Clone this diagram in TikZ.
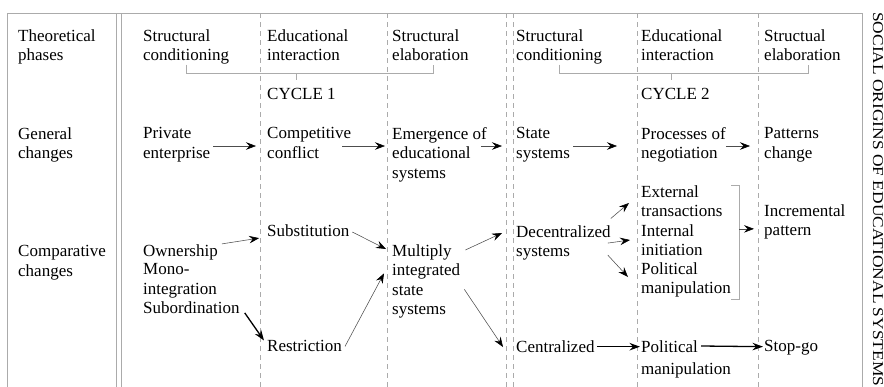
\documentclass[tikz,border=0pt]{standalone}
\usepackage{fontspec}
\setmainfont{Liberation Serif}
\usetikzlibrary{arrows.meta}
\definecolor{rulegray}{HTML}{ABABAB}
\definecolor{shaftgray}{HTML}{4D4D4D}

\begin{document}
\begin{tikzpicture}[x=1pt, y=-1pt,
  txt/.style={anchor=north west, inner sep=0pt, align=left, font=\fontsize{17}{19.3}\selectfont},
  rule/.style={draw=rulegray, line width=0.8pt},
  colsep/.style={draw=rulegray, line width=0.6pt, dash pattern=on 5pt off 4pt},
  arr/.style={draw=shaftgray, line width=0.55pt, -{Stealth[length=10pt, width=7.5pt, inset=3.5pt, color=black]}},
  heavyarr/.style={draw=black, line width=1.3pt, -{Stealth[length=10.5pt, width=7.5pt, inset=3.5pt]}}]
\useasboundingbox (0,0) rectangle (884,386);

\draw[rule] (7,390) -- (7,13) -- (862,13) -- (862,390);
\foreach \x in {116,121} \draw[rule] (\x,13) -- (\x,390);
\foreach \x in {260,387,506,513,637,758} \draw[colsep] (\x,13) -- (\x,390);

\node[txt] (ph0) at (18,29.5) {Theoretical\\phases};
\node[txt] (sc1) at (143,29.5) {Structural\\conditioning};
\node[txt] (ei1) at (267,29.5) {Educational\\interaction};
\node[txt] (se1) at (392,29.5) {Structural\\elaboration};
\node[txt] (sc2) at (516,29.5) {Structural\\conditioning};
\node[txt] (ei2) at (641,29.5) {Educational\\interaction};
\node[txt] (se2) at (764,29.5) {Structual\\elaboration};
\node[txt] (cyc1) at (267,88.5) {CYCLE 1};
\node[txt] (cyc2) at (641,88.5) {CYCLE 2};

\node[txt] (gen0) at (18,127.5) {General\\changes};
\node[txt] (priv) at (143,127.5) {Private\\enterprise};
\node[txt] (comp) at (267,127.5) {Competitive\\conflict};
\node[txt] (emer) at (392,127.5) {Emergence of\\educational\\systems};
\node[txt] (state) at (516,127.5) {State\\systems};
\node[txt] (proc) at (641,127.5) {Processes of\\negotiation};
\node[txt] (patt) at (764,127.5) {Patterns\\change};

\node[txt] (cmp0) at (18,245.5) {Comparative\\changes};
\node[txt] (own) at (143,244.5) {Ownership};
\node[txt] (mono) at (143,263.5) {Mono-\\integration};
\node[txt] (subord) at (143,301.5) {Subordination};
\node[txt] (subst) at (267,224.5) {Substitution};
\node[txt] (restr) at (267,340.5) {Restriction};
\node[txt] (mult) at (392,244.5) {Multiply\\integrated\\state\\systems};
\node[txt] (dec) at (516,225.5) {Decentralized\\systems};
\node[txt] (cent) at (516,340.5) {Centralized};
\node[txt] (ext) at (641,185.5) {External\\transactions};
\node[txt] (intl) at (641,224.5) {Internal\\initiation};
\node[txt] (polit) at (641,262.5) {Political\\manipulation};
\node[txt] (polman) at (641,340.5) {Political\\[2.7pt]manipulation};
\node[txt] (incr) at (764,204.5) {Incremental\\pattern};
\node[txt] (stop) at (764,340.5) {Stop-go};

\node[txt, anchor=base west, rotate=-90, xscale=1.16, font=\fontsize{15}{18}\selectfont] (side) at (873,12) {SOCIAL ORIGINS OF EDUCATIONAL SYSTEMS};

\draw[rule] (sc1.south) -- ++(0,9) coordinate (c1) -- (c1 -| se1.south) -- ++(3,0) -- ++(0,-9);
\draw[rule] ([shift={(-5,0)}]c1 -| cyc1.north) -- ++(0,6);
\draw[rule] (sc2.south) -- ++(0,9) coordinate (c2) -- (c2 -| se2.south) -- ++(6,0) -- ++(0,-9);
\draw[rule] ([shift={(-4,0)}]c2 -| cyc2.north) -- ++(0,6);

\coordinate (genrow) at (0,146);
\draw[arr, shorten <=3pt, shorten >=11pt] (priv.east |- genrow) -- (comp.west |- genrow);
\draw[arr, shorten <=-9pt, shorten >=7pt] (comp.east |- genrow) -- (emer.west |- genrow);
\draw[arr, shorten <=-6pt, shorten >=14pt] (emer.east |- genrow) -- (state.west |- genrow);
\draw[arr, shorten <=3pt, shorten >=24pt] (state.east |- genrow) -- (proc.west |- genrow);
\draw[arr, shorten >=14pt] (proc.east |- genrow) -- (patt.west |- genrow);

\draw[arr, shorten <=4pt, shorten >=8pt] (own.north east) -- (subst.south west);
\draw[heavyarr] ([shift={(5,-1)}]subord.south east) -- ([shift={(-3,0)}]restr.north west);
\draw[arr, shorten <=3pt] (subst.east) -- ([shift={(-6,4.5)}]mult.north west);
\draw[arr] ([shift={(3,0)}]restr.east) -- ([shift={(-8,-8)}]mult.west);
\draw[arr] ([shift={(5,5.5)}]mult.north east) -- ([shift={(-14,7.5)}]dec.north west);
\draw[arr] ([shift={(4,8)}]mult.east) -- ([shift={(-13,6.5)}]cent.north west);
\draw[arr] ([shift={(0,-7)}]dec.north east) -- ([shift={(-12,17.5)}]ext.north west);
\draw[arr] ([shift={(-3,0)}]dec.east) -- ([shift={(-11,15.5)}]intl.north west);
\draw[arr] ([shift={(-3,12)}]dec.east) -- ([shift={(-13,14.5)}]polit.north west);
\draw[heavyarr, shorten <=2pt, shorten >=1pt] (cent.east) -- (cent.east -| polman.west);
\draw[heavyarr, shorten >=1pt] ([shift={(60,5.5)}]polman.north west) -- (cent.east -| stop.west);

\draw[rule] (ext.north -| polit.east) -- ++(8,0) -- node[coordinate, pos=0.38] (brk) {} ([shift={(8,2)}]polit.south east) -- ([shift={(0,2)}]polit.south east);
\draw[arr, shorten >=10pt] (brk) -- (brk -| incr.west);
\end{tikzpicture}
\end{document}
